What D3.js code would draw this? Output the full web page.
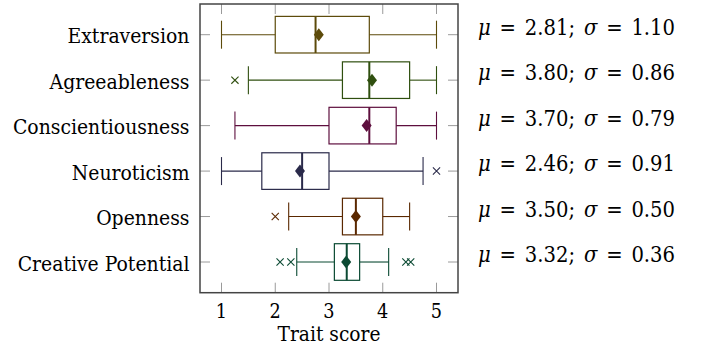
<!DOCTYPE html>
<html>
<head>
<meta charset="utf-8">
<script src="https://cdn.jsdelivr.net/npm/d3@7"></script>
<style>
  body { margin: 0; background: #fff; }
  svg { display: block; }
</style>
</head>
<body>
<div id="chart"></div>
<script>
// data
const traits = ["Extraversion", "Agreeableness", "Conscientiousness", "Neuroticism", "Openness", "Creative Potential"];
const lowWhisker = [1.00, 1.50, 1.25, 1.00, 2.25, 2.40];
const q1 = [2.00, 3.25, 3.00, 1.75, 3.25, 3.10];
const median = [2.75, 3.75, 3.75, 2.50, 3.50, 3.33];
const q3 = [3.75, 4.50, 4.25, 3.00, 4.00, 3.57];
const highWhisker = [5.00, 5.00, 5.00, 4.75, 4.50, 4.11];
const means = [2.81, 3.80, 3.70, 2.46, 3.50, 3.32];
const sds = [1.10, 0.86, 0.79, 0.91, 0.50, 0.36];
const outliers = [[], [1.25], [], [5.0], [2.0], [2.09, 2.29, 4.43, 4.52]];
const colors = ["#5c4a0a", "#2f4f0f", "#5e0f3e", "#2a2a4a", "#5a2800", "#0b4a33"];
const xTicks = [1, 2, 3, 4, 5];

const W = 705, H = 347;
const plot = { left: 200, right: 458, top: 4, bottom: 292.7 };
const serif = "'DejaVu Serif Condensed', 'DejaVu Serif', serif";

const svg = d3.select("#chart").append("svg").attr("width", W).attr("height", H)
    .style("font-family", serif).style("font-stretch", "condensed");

const x = d3.scaleLinear().domain([0.6, 5.4]).range([plot.left, plot.right]);
const y = d3.scaleLinear().domain([0.325, 6.675]).range([plot.top, plot.bottom]);

// font size that makes a string as wide as it is in the picture
function sizeFor(str, target) {
    const tmp = svg.append("text").attr("font-size", 20).text(str);
    const w = tmp.node().getComputedTextLength();
    tmp.remove();
    return 20 * target / w;
}
const labelSize = sizeFor("Creative Potential", 172);
const titleSize = sizeFor("Trait score", 103);

// ticks on all four sides, gray like pgfplots
const tickLen = 10;
const g = svg.append("g");
xTicks.forEach(t => {
    g.append("line").attr("x1", x(t)).attr("x2", x(t)).attr("y1", plot.bottom).attr("y2", plot.bottom - tickLen)
        .attr("stroke", "#9a9a9a").attr("stroke-width", 1);
    g.append("line").attr("x1", x(t)).attr("x2", x(t)).attr("y1", plot.top).attr("y2", plot.top + tickLen)
        .attr("stroke", "#9a9a9a").attr("stroke-width", 1);
    g.append("text").attr("x", x(t)).attr("y", 318).attr("text-anchor", "middle")
        .attr("font-size", titleSize * 0.95).text(t);
});
traits.forEach((d, i) => {
    const yy = y(i + 1);
    g.append("line").attr("x1", plot.left).attr("x2", plot.left + tickLen).attr("y1", yy).attr("y2", yy)
        .attr("stroke", "#9a9a9a").attr("stroke-width", 1);
    g.append("line").attr("x1", plot.right).attr("x2", plot.right - tickLen).attr("y1", yy).attr("y2", yy)
        .attr("stroke", "#9a9a9a").attr("stroke-width", 1);
    g.append("text").attr("x", 189.5).attr("y", yy + 8.5).attr("text-anchor", "end")
        .attr("font-size", labelSize).text(d);
});

// boxes
const boxH = 18.3, capH = 14;
traits.forEach((d, i) => {
    const yy = y(i + 1), c = colors[i];
    const b = svg.append("g").attr("stroke", c).attr("fill", "none");
    b.append("line").attr("x1", x(lowWhisker[i])).attr("x2", x(q1[i])).attr("y1", yy).attr("y2", yy).attr("stroke-width", 1.1);
    b.append("line").attr("x1", x(q3[i])).attr("x2", x(highWhisker[i])).attr("y1", yy).attr("y2", yy).attr("stroke-width", 1.1);
    [lowWhisker[i], highWhisker[i]].forEach(v => {
        b.append("line").attr("x1", x(v)).attr("x2", x(v)).attr("y1", yy - capH).attr("y2", yy + capH).attr("stroke-width", 1.1);
    });
    b.append("rect").attr("x", x(q1[i])).attr("y", yy - boxH)
        .attr("width", x(q3[i]) - x(q1[i])).attr("height", 2 * boxH).attr("stroke-width", 1.2);
    b.append("line").attr("x1", x(median[i])).attr("x2", x(median[i])).attr("y1", yy - boxH).attr("y2", yy + boxH).attr("stroke-width", 2);
    // mean diamond
    const mx = x(means[i]);
    svg.append("path").attr("d", `M${mx},${yy - 6.5}L${mx + 5},${yy}L${mx},${yy + 6.5}L${mx - 5},${yy}Z`).attr("fill", c);
    // outliers as crosses
    outliers[i].forEach(v => {
        const ox = x(v), s = 3.6;
        svg.append("path").attr("d", `M${ox - s},${yy - s}L${ox + s},${yy + s}M${ox - s},${yy + s}L${ox + s},${yy - s}`)
            .attr("stroke", c).attr("stroke-width", 1.1);
    });
    // stats label, spaces widened like TeX math spacing
    const t = svg.append("text").attr("x", 478).attr("y", yy).attr("font-size", labelSize * 1.04);
    t.append("tspan").attr("font-style", "italic").text("μ");
    t.append("tspan").text(` = ${means[i].toFixed(2)}; `);
    t.append("tspan").attr("font-style", "italic").text("σ");
    t.append("tspan").text(` = ${sds[i].toFixed(2)}`);
    const w = t.node().getComputedTextLength();
    t.attr("word-spacing", Math.max(0, (197 - w) / 5));
});

// frame
svg.append("rect").attr("x", plot.left).attr("y", plot.top)
    .attr("width", plot.right - plot.left).attr("height", plot.bottom - plot.top)
    .attr("fill", "none").attr("stroke", "#444").attr("stroke-width", 1.5);

svg.append("text").attr("x", x(3)).attr("y", 341).attr("text-anchor", "middle")
    .attr("font-size", titleSize).text("Trait score");
</script>
</body>
</html>
